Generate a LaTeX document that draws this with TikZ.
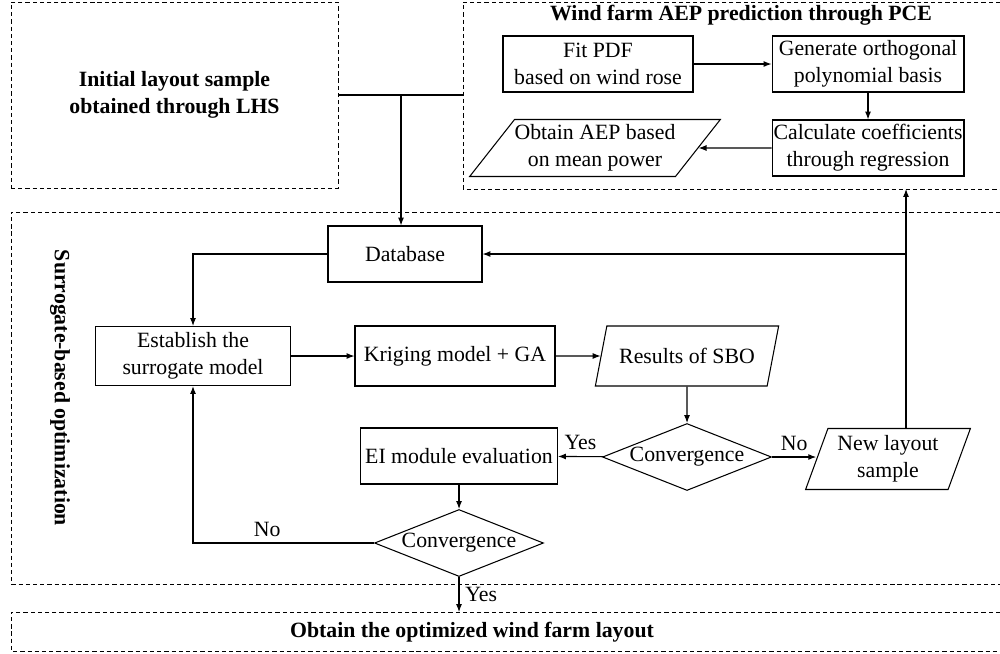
\documentclass[tikz,border=0pt]{standalone}
\usepackage{fontspec}
\setmainfont{Liberation Serif}
\usetikzlibrary{shapes.geometric,arrows.meta}

\begin{document}
\begin{tikzpicture}[x=0.02cm,y=-0.02cm,
  font=\fontsize{12.4}{15.2}\selectfont,
  heading/.style={font=\fontsize{12.4}{15.2}\selectfont\bfseries,align=center},
  box/.style={draw,line width=0.6pt,align=center,inner sep=0pt},
  io/.style={trapezium,trapezium stretches=true,draw,line width=0.6pt,align=center,inner sep=0pt},
  decide/.style={diamond,draw,line width=0.6pt,inner sep=0pt,aspect=2.5,minimum width=3.38cm,minimum height=1.34cm},
  region/.style={draw,line width=0.5pt,dash pattern=on 2.4pt off 1.7pt},
  arrow/.style={line width=0.6pt,-{Latex[length=4.5pt,width=3.4pt]}},
  link/.style={line width=0.6pt}]
\useasboundingbox (0,0) rectangle (1000,653);

% dashed regions
\node[region,heading,minimum width=6.54cm,minimum height=3.72cm] (init) at (174.5,95) {Initial layout sample\\obtained through LHS};
\draw[region] (1000,2) -- (463,2) -- (463,189) -- (1000,189);
\draw[region] (1000,212) -- (11,212) -- (11,584) -- (1000,584);
\draw[region] (1000,612) -- (11,612) -- (11,651) -- (1000,651);
\node[heading] (pcetitle) at (741,15) {Wind farm AEP prediction through PCE};
\node[heading,rotate=-90] (sbotitle) at (60,388) {Surrogate-based optimization};
\node[heading] (final) at (472,632) {Obtain the optimized wind farm layout};

% PCE
\node[box,minimum width=3.8cm,minimum height=1.12cm] (pdf) at (598,64) {Fit PDF\\based on wind rose};
\node[box,minimum width=3.84cm,minimum height=1.12cm] (basis) at (868,64) {Generate orthogonal\\polynomial basis};
\node[box,minimum width=3.84cm,minimum height=1.12cm] (coef) at (868,148) {Calculate coefficients\\through regression};
\node[io,trapezium left angle=46,trapezium right angle=134,minimum width=4.86cm,minimum height=1.14cm] (aep) at (595,148) {Obtain AEP based\\on mean power};

% SBO
\node[box,minimum width=3.08cm,minimum height=1.12cm] (db) at (405,254) {Database};
\node[box,minimum width=3.9cm,minimum height=1.18cm] (est) at (193,356) {Establish the\\surrogate model};
\node[box,minimum width=4cm,minimum height=1.2cm] (krig) at (455,356) {Kriging model + GA};
\node[io,trapezium left angle=58,trapezium right angle=122,minimum width=3.68cm,minimum height=1.2cm] (sbo) at (687,356) {Results of SBO};
\node[decide] (conv1) at (687,457) {Convergence};
\node[box,minimum width=3.94cm,minimum height=1.12cm] (ei) at (459,456) {EI module evaluation};
\node[io,trapezium left angle=68,trapezium right angle=112,minimum width=3.32cm,minimum height=1.22cm] (newlay) at (888,459) {New layout\\sample};
\node[decide] (conv2) at (459,543) {Convergence};

\coordinate (pcein) at (463,95);
\coordinate (split) at (401,95);
\coordinate (pceout) at (906,189);
\coordinate (outlet) at (459,612);

\draw[link] (init.east) -- (pcein);
\draw[arrow] (split) -- (split |- db.north);
\draw[arrow] (pdf) -- (basis);
\draw[arrow] (basis) -- (coef);
\draw[arrow] (coef) -- (aep);
\draw[arrow] (db.west) -| (est.north);
\draw[arrow] (est) -- (krig);
\draw[arrow] (krig) -- (sbo);
\draw[arrow] (sbo) -- (conv1);
\draw[arrow] (conv1) -- node[above] {Yes} (ei);
\draw[arrow] (conv1.east) -- node[above] {No} (conv1.east -| newlay.west);
\draw[arrow] (ei) -- (conv2);
\draw[arrow] (conv2.west) -- node[above,pos=0.59] {No} (conv2.west -| est.south) -- (est.south);
\draw[arrow] (conv2.south) -- node[right] {Yes} (outlet);
\draw[arrow] (pceout |- newlay.north) -- (pceout);
\draw[arrow] (pceout |- db.east) -- (db.east);
\end{tikzpicture}
\end{document}
